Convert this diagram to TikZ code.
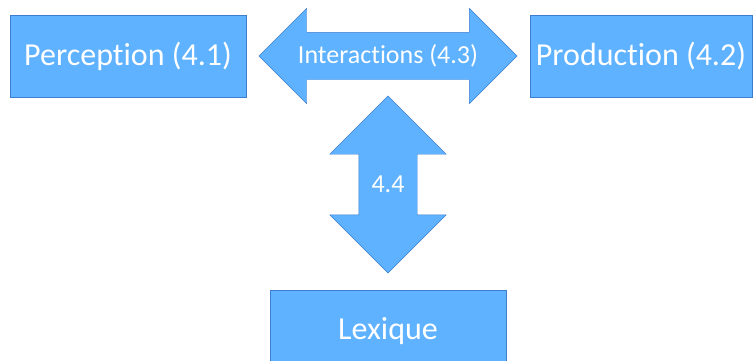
\documentclass[tikz,border=0pt]{standalone}
\usepackage{fontspec}
\setmainfont{Carlito}[Ligatures=NoCommon]
\usetikzlibrary{shapes.arrows,positioning}

\definecolor{boxblue}{RGB}{95,178,255}
\definecolor{edgeblue}{RGB}{62,125,205}

\tikzset{
  box/.style={draw=edgeblue, fill=boxblue, text=white, minimum width=236pt,
    minimum height=82pt, inner sep=0pt, font=\fontsize{32}{38}\selectfont},
  dblarrow/.style={double arrow, draw=edgeblue, fill=boxblue,
    double arrow tip angle=90, inner sep=0pt},
  arrowlbl/.style={text=white, font=\fontsize{26}{31}\selectfont}
}

\begin{document}
\begin{tikzpicture}[x=1pt,y=-1pt]
  \useasboundingbox (0,0) rectangle (754,360);
  \node[box] (percep) at (128,56) {Perception (4.1)};
  \node[box, minimum width=222pt] (prod) at (641,56) {Production (4.2)};
  \node[box] (lex) at (388,331) {Lexique}; % cut by the page
  % double arrows, shaft set by the rule
  \node[dblarrow, minimum height=258pt, minimum width=95pt,
    double arrow head extend=24pt] (inter) at (388,56) {\rule{0pt}{47pt}};
  \node[arrowlbl] (interlbl) at (inter) {Interactions (4.3)};
  \node[dblarrow, rotate=90, minimum height=177pt, minimum width=116pt,
    double arrow head extend=29pt] (link) at (388,184.5) {\rule{0pt}{58pt}};
  \node[arrowlbl] (linklbl) at (link) {4.4};
\end{tikzpicture}
\end{document}
